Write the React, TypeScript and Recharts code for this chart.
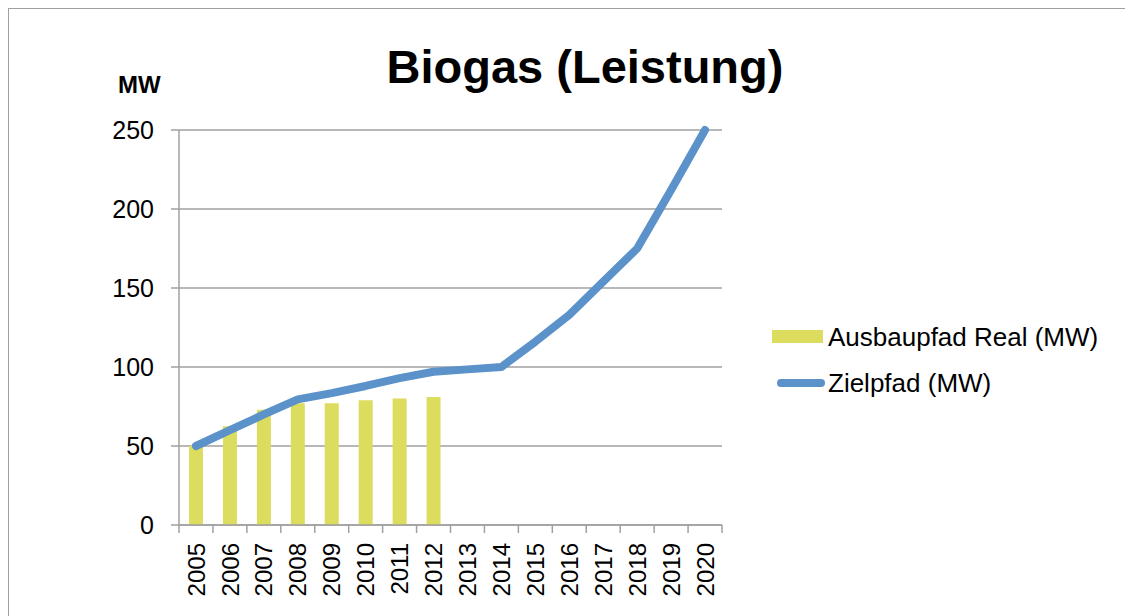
import { ComposedChart, Bar, Line, XAxis, YAxis, CartesianGrid, Legend } from 'recharts';

const years = ['2005', '2006', '2007', '2008', '2009', '2010', '2011', '2012', '2013', '2014', '2015', '2016', '2017', '2018', '2019', '2020'];
const realMW = [50, 62.5, 73, 77, 77, 79, 80, 81, null, null, null, null, null, null, null, null];
const zielMW = [50, 60, 70, 79.5, 83.5, 88, 93, 97, 98.5, 100, 116, 133, 154, 175, 212, 250];
const yTicks = [0, 50, 100, 150, 200, 250];

const data = years.map((year, i) => ({ year, real: realMW[i], ziel: zielMW[i] }));

const FONT = '"Liberation Sans", Arial, sans-serif';
const GRAY = '#a0a0a0';
const YELLOW = '#dcdc5e';
const BLUE = '#5b92c9';
const PLOT_W = 543;
const BAND = PLOT_W / years.length;

function YearTick(props: any) {
  const { x, y, payload, index } = props;
  const left = x - BAND / 2;
  return (
    <g>
      <line x1={left} y1={y} x2={left} y2={y + 8} stroke={GRAY} strokeWidth={1.5} />
      {index === years.length - 1 && (
        <line x1={x + BAND / 2} y1={y} x2={x + BAND / 2} y2={y + 8} stroke={GRAY} strokeWidth={1.5} />
      )}
      <text
        transform={`translate(${x},${y + 18}) rotate(-90)`}
        textAnchor="end"
        dy="0.36em"
        fontSize={24}
        fontFamily={FONT}
        fill="#000"
      >
        {payload.value}
      </text>
    </g>
  );
}

function ChartLegend() {
  const row = { display: 'flex', alignItems: 'center', height: 46 } as const;
  return (
    <div style={{ fontFamily: FONT, fontSize: 26, color: '#000' }}>
      <div style={row}>
        <svg width={59} height={20}>
          <rect x={3} y={3} width={51} height={13} fill={YELLOW} />
        </svg>
        <span>Ausbaupfad Real (MW)</span>
      </div>
      <div style={row}>
        <svg width={59} height={20}>
          <line x1={12} y1={10} x2={52} y2={10} stroke={BLUE} strokeWidth={8} strokeLinecap="round" />
        </svg>
        <span>Zielpfad (MW)</span>
      </div>
    </div>
  );
}

export default function App() {
  return (
    <div
      style={{
        position: 'relative',
        width: 1124,
        height: 607,
        borderTop: `1px solid ${GRAY}`,
        borderLeft: `1px solid ${GRAY}`,
        background: '#fff',
        fontFamily: FONT,
      }}
    >
      <div
        style={{
          position: 'absolute',
          left: 326,
          width: 500,
          top: 34,
          textAlign: 'center',
          fontSize: 47,
          lineHeight: '48px',
          fontWeight: 'bold',
        }}
      >
        Biogas (Leistung)
      </div>
      <div style={{ position: 'absolute', left: 109, top: 64, fontSize: 24, lineHeight: '24px', fontWeight: 'bold' }}>
        MW
      </div>
      <ComposedChart width={1124} height={607} data={data} margin={{ top: 121, right: 411, bottom: 6, left: 90 }}>
        <CartesianGrid vertical={false} stroke={GRAY} strokeWidth={1.5} />
        <XAxis
          dataKey="year"
          interval={0}
          height={85}
          tick={<YearTick />}
          tickLine={false}
          tickSize={0}
          tickMargin={0}
          axisLine={{ stroke: GRAY, strokeWidth: 1.5 }}
        />
        <YAxis
          width={80}
          domain={[0, 250]}
          ticks={yTicks}
          interval={0}
          tickSize={8}
          tickMargin={17}
          axisLine={{ stroke: GRAY, strokeWidth: 1.5 }}
          tickLine={{ stroke: GRAY, strokeWidth: 1.5 }}
          tick={{ fill: '#000', fontSize: 25, fontFamily: FONT }}
        />
        <Bar dataKey="real" name="Ausbaupfad Real (MW)" fill={YELLOW} barSize={14} isAnimationActive={false} />
        <Line
          dataKey="ziel"
          name="Zielpfad (MW)"
          type="linear"
          stroke={BLUE}
          strokeWidth={8}
          strokeLinecap="round"
          strokeLinejoin="round"
          dot={false}
          activeDot={false}
          isAnimationActive={false}
        />
        <Legend
          layout="vertical"
          align="center"
          verticalAlign="middle"
          content={<ChartLegend />}
          wrapperStyle={{ position: 'absolute', left: 760, top: 305, width: 360, bottom: 'auto', right: 'auto' }}
        />
      </ComposedChart>
    </div>
  );
}
